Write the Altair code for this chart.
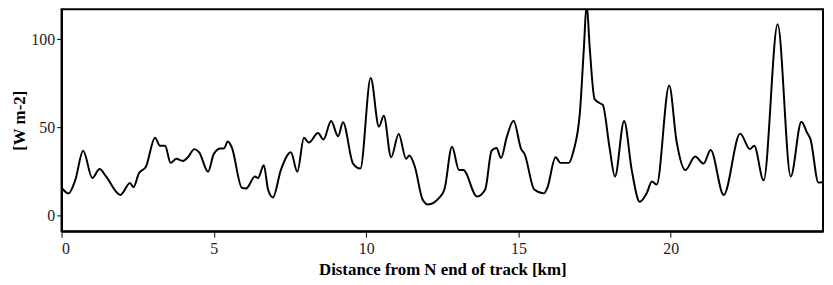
import altair as alt
import pandas as pd

dist_km = [0.00, 0.23, 0.45, 0.71, 1.01, 1.25, 1.46, 1.93, 2.25, 2.36, 2.54, 2.77,
           3.07, 3.23, 3.40, 3.58, 3.77, 3.98, 4.15, 4.36, 4.52, 4.81, 5.00, 5.22,
           5.33, 5.46, 5.59, 5.92, 6.06, 6.35, 6.45, 6.64, 6.78, 6.94, 7.20, 7.53,
           7.74, 7.96, 8.12, 8.42, 8.60, 8.85, 9.08, 9.24, 9.57, 9.81, 10.15, 10.42,
           10.58, 10.82, 11.07, 11.31, 11.42, 11.60, 11.85, 12.03, 12.41, 12.57, 12.82,
           13.05, 13.19, 13.64, 13.91, 14.12, 14.28, 14.43, 14.61, 14.84, 15.09, 15.20,
           15.52, 15.84, 15.95, 16.22, 16.38, 16.65, 16.81, 17.02, 17.15, 17.24, 17.34,
           17.50, 17.66, 17.77, 17.99, 18.17, 18.47, 18.72, 18.98, 19.22, 19.38, 19.54, 19.95,
           20.19, 20.48, 20.80, 21.08, 21.31, 21.74, 22.28, 22.60, 22.74, 23.05, 23.51,
           23.94, 24.29, 24.48, 24.59, 24.85, 25.00]
flux = [15.7, 12.5, 20.0, 36.7, 21.2, 26.3, 22.1, 11.6, 18.4, 16.0, 23.9, 27.6,
        44.1, 39.5, 39.5, 29.8, 32.1, 30.9, 33.0, 37.6, 35.8, 24.8, 34.9, 38.0,
        38.0, 41.9, 38.6, 15.7, 15.3, 22.1, 21.2, 28.5, 14.7, 10.2, 25.7, 35.8,
        24.8, 44.0, 41.3, 46.8, 43.1, 53.6, 44.9, 52.9, 29.4, 26.6, 77.9, 50.4,
        56.5, 33.0, 46.2, 32.1, 34.0, 27.6, 9.2, 6.2, 10.2, 14.7, 38.9,
        25.7, 25.7, 10.7, 14.7, 36.7, 38.2, 32.5, 44.0, 53.7, 37.6, 34.9,
        14.7, 12.5, 15.7, 33.0, 29.8, 29.8, 36.7, 58.7, 95.3, 120.0, 95.3,
        66.0, 63.8, 62.7, 38.6, 22.1, 53.6, 25.7, 7.8, 12.9, 19.3, 17.5, 73.7,
        42.2, 25.7, 33.4, 29.4, 37.1, 11.6, 46.4, 37.6, 39.5, 19.9, 108.5,
        22.1, 53.2, 46.8, 43.1, 18.6, 19.0]

df = pd.DataFrame({"dist": dist_km, "flux": flux})

FONT = "'Liberation Serif', 'Times New Roman', Times, 'DejaVu Serif', serif"

chart = alt.Chart(df).mark_line(
    color="black", strokeWidth=2, interpolate="monotone", clip=True
).encode(
    x=alt.X("dist:Q",
            scale=alt.Scale(domain=[0, 25], nice=False, zero=False),
            axis=alt.Axis(values=[0, 5, 10, 15, 20], title="Distance from N end of track [km]",
                          grid=False, tickSize=6, labelPadding=3, titlePadding=6)),
    y=alt.Y("flux:Q",
            scale=alt.Scale(domain=[-9, 117], nice=False, zero=False),
            axis=alt.Axis(values=[0, 50, 100], title="[W m-2]",
                          grid=False, tickSize=5, labelPadding=2, titlePadding=2)),
).properties(
    width=768, height=224,
    autosize=alt.AutoSizeParams(type="none"),
    padding={"left": 54, "top": 0, "right": 2, "bottom": 53},
).configure_view(
    stroke="black", strokeWidth=2
).configure_axis(
    domainColor="black", domainWidth=2, tickColor="black", tickWidth=1,
    labelFont=FONT, labelFontSize=16, labelColor="#222",
    titleFont=FONT, titleFontSize=17, titleFontWeight="bold", titleColor="black",
)

chart.save("out.html", embed_options={"renderer": "svg", "actions": False})
